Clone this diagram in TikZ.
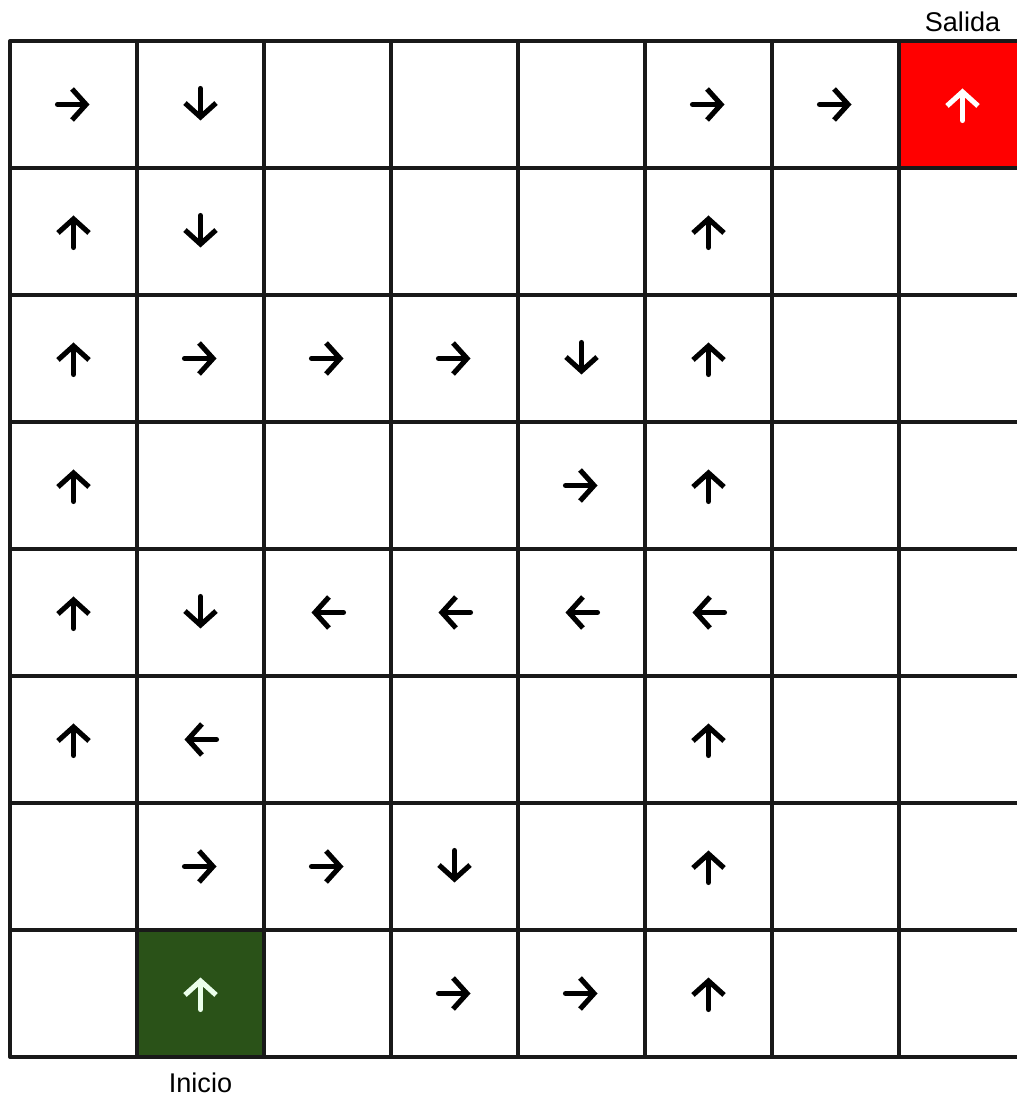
\documentclass[tikz,border=0pt]{standalone}
\usepackage{fontspec}
\setmainfont{Liberation Sans}
\usepackage{xcolor}
\usetikzlibrary{arrows.meta}

\definecolor{exitred}{RGB}{255,0,0}
\definecolor{startgreen}{RGB}{42,82,24}

\begin{document}
\begin{tikzpicture}[line join=round,
  cellbox/.style={draw=black!90,line width=0.95pt,minimum size=1.27cm,inner sep=0pt,outer sep=0pt},
  move/.style={line width=1.45pt,line cap=round,-{Straight Barb[length=1.4mm,width=3.1mm,line width=1.45pt]}},
  lbl/.style={font=\fontsize{7.7}{9}\selectfont}]
  \useasboundingbox (0,0) rectangle (10.16,11.00);
  % grid of cells, c<col><row>, row 0 on top
  \foreach \r in {0,...,7}
    \foreach \c in {0,...,7}
      \node[cellbox] (c\c\r) at ({0.735+1.27*\c},{9.955-1.27*\r}) {};
  \node[cellbox,fill=exitred] (goal) at (c70) {};
  \node[cellbox,fill=startgreen] (start) at (c17) {};
  % policy arrows: col/row/direction
  \foreach \c/\r/\d in {0/0/0,1/0/270,5/0/0,6/0/0,
                        0/1/90,1/1/270,5/1/90,
                        0/2/90,1/2/0,2/2/0,3/2/0,4/2/270,5/2/90,
                        0/3/90,4/3/0,5/3/90,
                        0/4/90,1/4/270,2/4/180,3/4/180,4/4/180,5/4/180,
                        0/5/90,1/5/180,5/5/90,
                        1/6/0,2/6/0,3/6/270,5/6/90,
                        3/7/0,4/7/0,5/7/90}
    \draw[move] ([shift={({\d+180}:0.16)}]c\c\r.center) -- ([shift={(\d:0.16)}]c\c\r.center);
  \draw[move,white] ([shift={(270:0.16)}]goal.center) -- ([shift={(90:0.16)}]goal.center);
  \draw[move,white!92!green] ([shift={(270:0.16)}]start.center) -- ([shift={(90:0.16)}]start.center);
  \node[lbl] (salida) at (9.625,10.78) {Salida};
  \node[lbl] (inicio) at (2.005,0.17) {Inicio};
\end{tikzpicture}
\end{document}
